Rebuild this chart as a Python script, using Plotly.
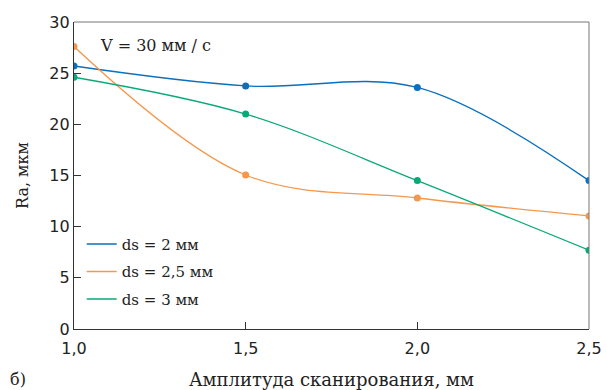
import plotly.graph_objects as go

x_vals = [1.0, 1.5, 2.0, 2.5]
ds2 = [25.7, 23.75, 23.6, 14.5]
ds25 = [27.6, 15.05, 12.8, 11.05]
ds3 = [24.6, 21.0, 14.5, 7.7]
names = ["ds = 2 мм", "ds = 2,5 мм", "ds = 3 мм"]
colors = ["#0a6fbd", "#f5984d", "#0aa878"]
x_ticks = [1.0, 1.5, 2.0, 2.5]
x_tick_text = ["1,0", "1,5", "2,0", "2,5"]
y_ticks = [0, 5, 10, 15, 20, 25, 30]

FONT = "DejaVu Serif"
NUMFONT = "DejaVu Sans"
fig = go.Figure()
for i, (ys, nm, c) in enumerate(zip([ds2, ds25, ds3], names, colors)):
    fig.add_trace(go.Scatter(x=x_vals, y=ys, name=nm, mode="lines+markers",
                             line=dict(color=c, width=1.3, shape="spline", smoothing=1.0),
                             marker=dict(color=c, size=7), showlegend=False))
for i, (nm, c) in enumerate(zip(names, colors)):
    fig.add_trace(go.Scatter(x=[None], y=[None], name=nm, mode="lines",
                             line=dict(color=c, width=1.5), legendgroup=f"g{i}",
                             showlegend=True))

fig.update_layout(
    template="none",
    width=607, height=390,
    margin=dict(l=74, r=18, t=22, b=61, autoexpand=False),
    paper_bgcolor="white", plot_bgcolor="white",
    font=dict(family=FONT, size=15, color="#222"),
    legend=dict(x=0.015, y=0.33, xanchor="left", yanchor="top",
                bgcolor="rgba(0,0,0,0)", font=dict(family=FONT, size=15),
                itemwidth=30, tracegroupgap=5),
    xaxis=dict(range=[1.0, 2.5], tickvals=x_ticks, ticktext=x_tick_text,
               automargin=False,
               ticks="inside", ticklen=7, tickcolor="#333", showgrid=False,
               zeroline=False, showline=True, linecolor="#333", linewidth=1.2,
               ticklabelstandoff=5,
               title=dict(text="Амплитуда сканирования, мм", standoff=16,
                          font=dict(family=FONT, size=18)),
               tickfont=dict(family=NUMFONT, size=16, color="#222")),
    yaxis=dict(range=[0, 30], tickvals=y_ticks, ticks="inside", ticklen=7,
               automargin=False,
               tickcolor="#333", showgrid=False, zeroline=False, showline=True,
               linecolor="#333", linewidth=1.2,
               title=dict(text="Ra, мкм", standoff=16, font=dict(family=FONT, size=16)),
               tickfont=dict(family=NUMFONT, size=16, color="#222")),
    shapes=[
        dict(type="line", xref="paper", yref="paper", x0=0, x1=1, y0=1, y1=1,
             line=dict(color="#777", width=1)),
        dict(type="line", xref="paper", yref="paper", x0=1, x1=1, y0=0, y1=1,
             line=dict(color="#777", width=1)),
    ],
    annotations=[
        dict(text="V = 30 мм / с", xref="paper", yref="paper", x=0.047, y=0.925,
             xanchor="left", yanchor="middle", showarrow=False,
             font=dict(family=FONT, size=16)),
        dict(text="б)", xref="paper", yref="paper", x=-0.128, y=-0.163,
             xanchor="left", yanchor="middle", showarrow=False,
             font=dict(family=FONT, size=16)),
    ],
)
fig.write_html("out.html", config={"displayModeBar": False},
               post_script="document.body.style.margin='0';document.body.style.overflow='hidden';")
